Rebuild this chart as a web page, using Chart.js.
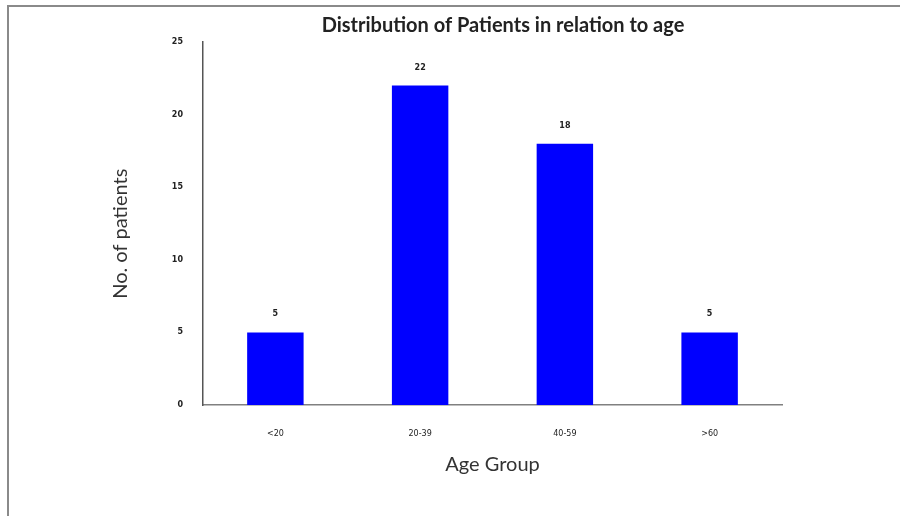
<!DOCTYPE html>
<html>
<head>
<meta charset="utf-8">
<script src="https://cdn.jsdelivr.net/npm/chart.js@4"></script>
<style>
  html, body { margin: 0; padding: 0; background: #fff; }
  #wrap { position: relative; width: 900px; height: 516px; }
  #frame { position: absolute; left: 7px; top: 5px; right: 0; bottom: 0;
           border-top: 2px solid #8a8a8a; border-left: 2px solid #8a8a8a; pointer-events: none; }
  canvas { position: absolute; left: 0; top: 0; }
</style>
</head>
<body>
<div id="wrap">
  <canvas id="c" width="900" height="516"></canvas>
  <div id="frame"></div>
</div>
<script>
const categories = ['<20', '20-39', '40-59', '>60'];
const patients = [5, 22, 18, 5];
const yTicks = [0, 5, 10, 15, 20, 25];
const chartTitle = 'Distribution of Patients in relation to age';
const xTitle = 'Age Group';
const yTitle = 'No. of patients';

const valueLabels = {
  id: 'valueLabels',
  afterDatasetsDraw(chart) {
    const ctx = chart.ctx;
    const meta = chart.getDatasetMeta(0);
    ctx.save();
    ctx.font = 'bold 8px "DejaVu Sans"';
    ctx.fillStyle = '#222';
    ctx.textAlign = 'center';
    ctx.textBaseline = 'middle';
    meta.data.forEach((bar, i) => {
      ctx.fillText(String(patients[i]), bar.x, bar.y - 18);
    });
    ctx.restore();
  }
};

new Chart(document.getElementById('c'), {
  type: 'bar',
  data: {
    labels: categories,
    datasets: [{
      data: patients,
      backgroundColor: '#0000FF',
      borderWidth: 0,
      categoryPercentage: 1,
      barPercentage: 0.39
    }]
  },
  options: {
    responsive: false,
    animation: false,
    devicePixelRatio: 1,
    layout: { padding: { left: 106, right: 0, top: 0, bottom: 0 } },
    plugins: {
      legend: { display: false },
      tooltip: { enabled: false },
      title: {
        display: true,
        text: chartTitle,
        color: '#222',
        font: { family: 'Lato', size: 20, weight: 'bold' },
        padding: { top: 14, bottom: 4 }
      }
    },
    scales: {
      x: {
        grid: { display: false, drawTicks: false },
        border: { display: true, color: '#808080', width: 1.5 },
        ticks: { color: '#222', font: { family: 'DejaVu Sans', size: 8 }, padding: 24 },
        title: {
          display: true, text: xTitle, color: '#333',
          font: { family: 'Lato', size: 20 },
          padding: { top: 0, bottom: 39 }
        },
        afterFit(s) { s.height = 111; }
      },
      y: {
        min: 0, max: 25,
        afterBuildTicks(s) { s.ticks = yTicks.map(v => ({ value: v })); },
        grid: { display: false, drawTicks: false },
        border: { display: true, color: '#555', width: 1.5 },
        ticks: { color: '#222', font: { family: 'DejaVu Sans', size: 8, weight: 'bold' }, padding: 20 },
        title: {
          display: true, text: yTitle + '    ', color: '#333',
          font: { family: 'Lato', size: 20 },
          padding: { top: 3, bottom: 0 }
        },
        afterFit(s) { s.width = 97; }
      },
      yRight: {
        position: 'right',
        display: true,
        grid: { display: false, drawTicks: false },
        border: { display: false },
        ticks: { display: false },
        afterFit(s) { s.width = 118; }
      }
    }
  },
  plugins: [valueLabels]
});
</script>
</body>
</html>
